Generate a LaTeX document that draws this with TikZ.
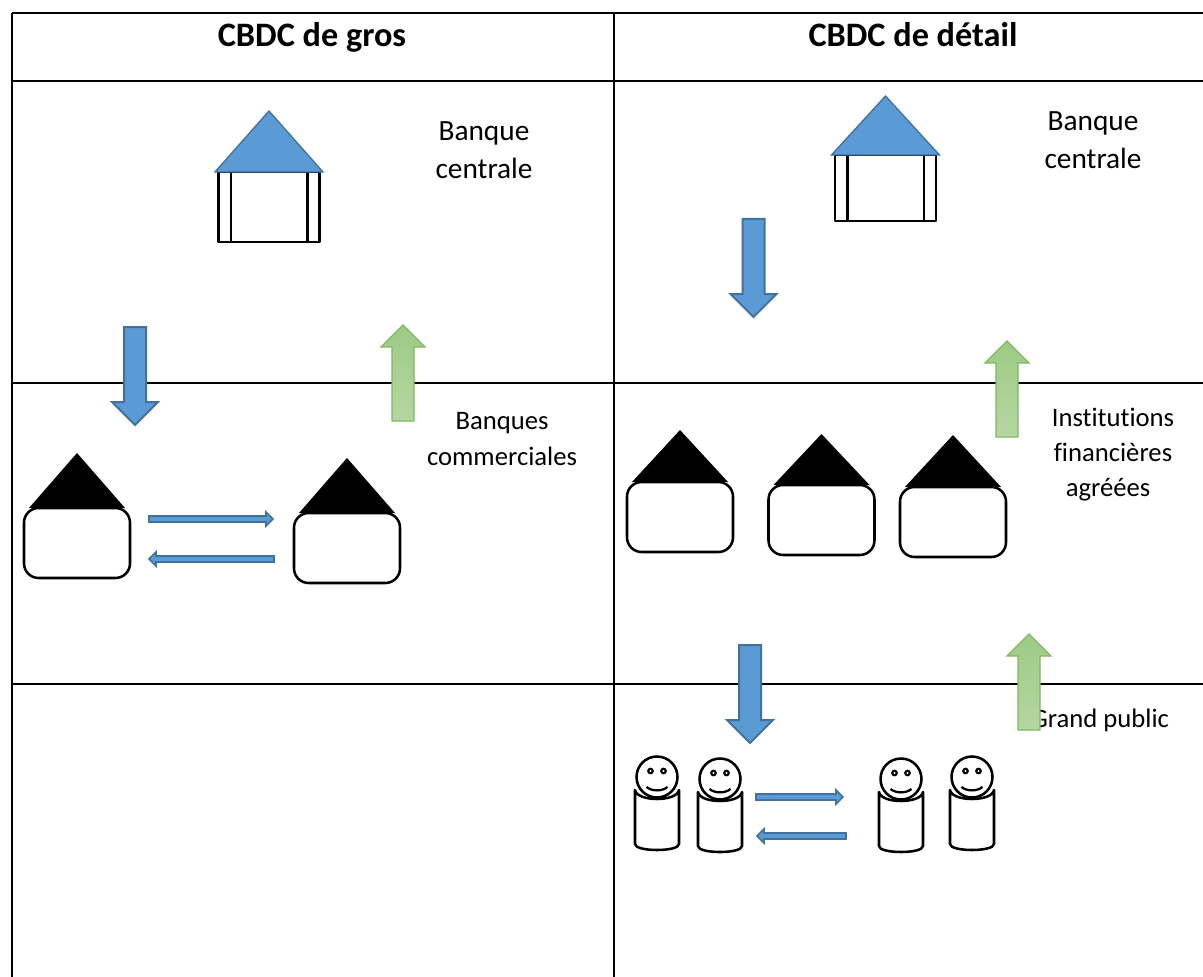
\documentclass[tikz,border=0pt]{standalone}
\usepackage{fontspec}
\setmainfont[Ligatures = NoCommon]{Carlito}
\definecolor{blueface}{HTML}{5B9BD5}
\definecolor{blueedge}{HTML}{41719C}
\definecolor{greentop}{HTML}{9CCB85}
\definecolor{greenlow}{HTML}{B5D6A2}
\definecolor{greenedge}{HTML}{7FB860}
\tikzset{
  gridline/.style = { line width = 1.5pt },
  blueshape/.style = { fill = blueface, draw = blueedge, line width = 1.5pt, line join = miter },
  greenshape/.style = { top color = greentop, bottom color = greenlow, draw = greenedge, line width = 1pt },
  outline/.style = { draw, fill = white, line width = 1.9pt, line join = round },
  label/.style = { font = \fontsize{20}{27}\selectfont, align = center, inner sep = 0pt },
  biglabel/.style = { font = \fontsize{22}{28.5}\selectfont, align = center, inner sep = 0pt },
  title/.style = { font = \fontsize{25.7}{30}\selectfont\bfseries, anchor = base, inner sep = 0pt },
  pics/bigdown/.style = { code = {
    \draw [blueshape] (0,0) -- (-23,-23) -- (-11,-23) -- (-11,-98) -- (11,-98) -- (11,-23) -- (23,-23) -- cycle;
  }},
  pics/bigup/.style = { code = {
    \draw [greenshape] (0,0) -- (-22,22) -- (-11,22) -- (-11,96) -- (11,96) -- (11,22) -- (22,22) -- cycle;
  }},
  pics/leanright/.style = { code = {
    \draw [blueshape, line width = 1.3pt] (0,-3) -- ({#1-7},-3) -- ({#1-7},-7) -- (#1,0) -- ({#1-7},7) -- ({#1-7},3) -- (0,3) -- cycle;
  }},
  pics/leanleft/.style = { code = {
    \draw [blueshape, line width = 1.3pt] (0,-3) -- ({-#1+7},-3) -- ({-#1+7},-7) -- (-#1,0) -- ({-#1+7},7) -- ({-#1+7},3) -- (0,3) -- cycle;
  }},
  pics/house/.style = { code = {
    \fill (-48,0) -- (0,-#1) -- (48,0) -- cycle;
    \draw [outline, rounded corners = 11] (-53,0) rectangle (53,70);
  }},
  pics/bank/.style 2 args = { code = {
    \draw [outline] (-50.5,0) rectangle (50.5,#1);
    \draw [line width = 1.9pt] (-38,0) -- (-38,#1);
    \draw [line width = 1.9pt] (38.5,0) -- (38.5,#1);
    \draw [blueshape, line width = 1pt] (-54,0) -- (0,-#2) -- (54,0) -- cycle;
  }},
  pics/person/.style = { code = {
    \draw [outline] (-22,13) .. controls (-20,25) and (20,25) .. (22,13) -- (22,67)
      .. controls (22,75) and (-22,75) .. (-22,67) -- cycle;
    \draw [outline] (0,0) circle (20.5);
    \fill (-6.5,-6) circle (3.4);
    \fill (6.5,-6) circle (3.4);
    \fill [white] (-6.5,-6) circle (1.2);
    \fill [white] (6.5,-6) circle (1.2);
    \draw [line width = 1.7pt] (-10.5,10) .. controls (-5,14.5) and (5,14.5) .. (10.5,10);
  }}
}

\begin{document}
\begin{tikzpicture}[x = 0.75pt, y = -0.75pt]
    \useasboundingbox (0,0) rectangle (1203,977);
    % table
    \draw [gridline] (12,13) -- (1203,13);
    \draw [gridline] (12,81) -- (1203,81);
    \draw [gridline] (12,383) -- (1203,383);
    \draw [gridline] (12,684) -- (1203,684);
    \draw [gridline] (12,13) -- (12,977);
    \draw [gridline] (614,13) -- (614,977);
    % texts
    \node (gros) [title] at (312,47) {CBDC de gros};
    \node (detail) [title] at (913,47) {CBDC de détail};
    \node (bcgros) [biglabel] at (484,150) {Banque\\centrale};
    \node (bcdetail) [biglabel] at (1093,140) {Banque\\centrale};
    \node (commerciales) [label] at (502,439) {Banques\\commerciales};
    \node (institutions) [label, font = \fontsize{20}{26.25}\selectfont] at (1113,455) {Institutions\\financières\\agréées\kern 7.5pt};
    \node (public) [label] at (1100,720) {Grand public};
    % left column
    \pic at (269,172) {bank = {70}{61}};
    \pic at (135,425) {bigdown};
    \pic at (403,325) {bigup};
    \pic at (77,508) {house = 55};
    \pic at (347,513) {house = 55};
    \pic at (149,519) {leanright = 124};
    \pic at (274,559) {leanleft = 125};
    % right column
    \pic at (885.5,155) {bank = {66}{59}};
    \pic at (753.5,317) {bigdown};
    \pic at (1007,341) {bigup};
    \pic at (680,482) {house = 52};
    \pic at (821.5,485) {house = 51};
    \pic at (953,487) {house = 52};
    \pic at (750,743) {bigdown};
    \pic at (1029,634) {bigup};
    \pic at (657,777) {person};
    \pic at (720,779) {person};
    \pic at (901,779) {person};
    \pic at (972,777) {person};
    \pic at (756,797) {leanright = 87};
    \pic at (846,836) {leanleft = 89};
\end{tikzpicture}
\end{document}
